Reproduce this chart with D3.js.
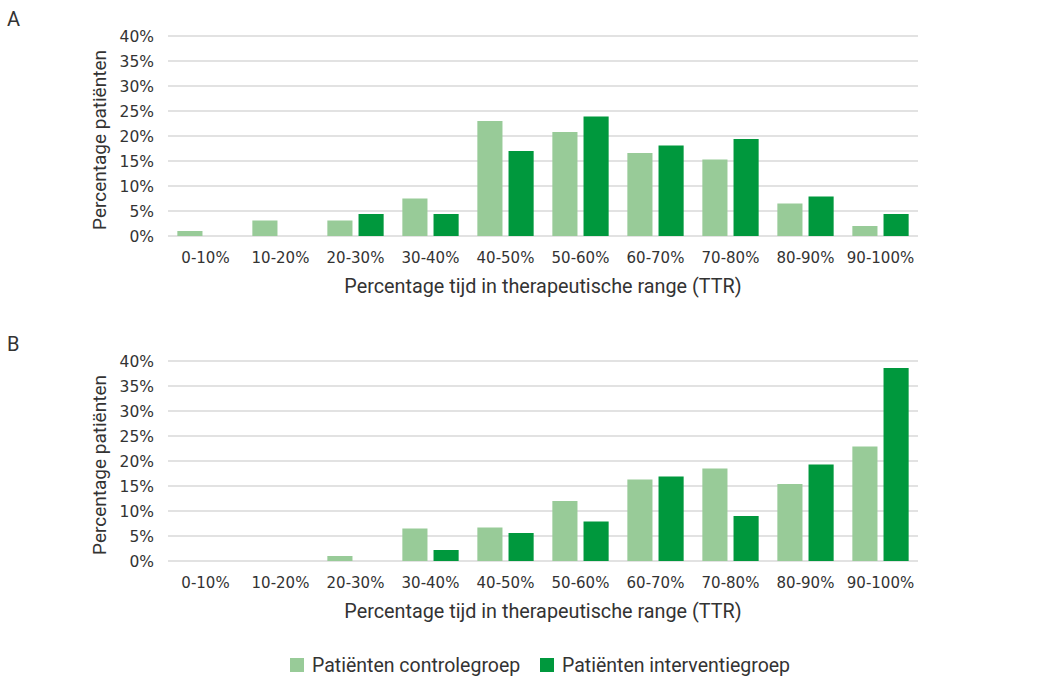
<!DOCTYPE html>
<html>
<head>
<meta charset="utf-8">
<script src="https://cdn.jsdelivr.net/npm/d3@7"></script>
<style>
  body { margin: 0; background: #fff; }
  text { font-family: Roboto, "Noto Sans", sans-serif; fill: #333; }
  text.tick { font-family: "DejaVu Sans", sans-serif; }
</style>
</head>
<body>
<div id="chart"></div>
<script>
// TTR distribution, panel A and B
const categories = ["0-10%", "10-20%", "20-30%", "30-40%", "40-50%", "50-60%", "60-70%", "70-80%", "80-90%", "90-100%"];
const seriesNames = ["Patiënten controlegroep", "Patiënten interventiegroep"];
const controlA = [1.0, 3.1, 3.1, 7.5, 23.0, 20.8, 16.6, 15.3, 6.5, 2.0];
const interventionA = [0, 0, 4.4, 4.4, 17.0, 23.9, 18.1, 19.4, 7.9, 4.4];
const controlB = [0, 0, 1.0, 6.5, 6.7, 12.0, 16.3, 18.5, 15.4, 22.9];
const interventionB = [0, 0, 0, 2.2, 5.6, 7.9, 16.9, 9.0, 19.3, 38.6];
const yTicks = [0, 5, 10, 15, 20, 25, 30, 35, 40];

const width = 1063;
const height = 691;
const colors = ["#98cb98", "#00983d"];

const svg = d3.select("#chart")
  .append("svg")
  .attr("width", width)
  .attr("height", height);

const x = d3.scaleBand()
  .domain(categories)
  .range([168, 918]);

const xInner = d3.scaleBand()
  .domain([0, 1])
  .range([0, x.bandwidth()])
  .paddingInner(0.194)
  .paddingOuter(0.3);

function drawPanel(letter, top, control, intervention) {
  const y = d3.scaleLinear().domain([0, 40]).range([top + 200, top]);
  const g = svg.append("g");

  g.append("text")
    .attr("x", 7)
    .attr("y", top - 10)
    .attr("font-size", 20)
    .text(letter);

  // gridlines
  g.selectAll("line.grid")
    .data(yTicks)
    .enter()
    .append("line")
    .attr("x1", x.range()[0])
    .attr("x2", x.range()[1])
    .attr("y1", d => y(d))
    .attr("y2", d => y(d))
    .attr("stroke", "#d9d9d9")
    .attr("stroke-width", 1.5);

  // y tick labels
  g.selectAll("text.ytick")
    .data(yTicks)
    .enter()
    .append("text")
    .attr("class", "tick")
    .attr("x", 154)
    .attr("y", d => y(d))
    .attr("dy", "0.36em")
    .attr("text-anchor", "end")
    .attr("font-size", 15.5)
    .text(d => d + "%");

  // bars
  [control, intervention].forEach((vals, s) => {
    g.selectAll("rect.s" + s)
      .data(vals)
      .enter()
      .append("rect")
      .attr("x", (d, i) => x(categories[i]) + xInner(s))
      .attr("width", xInner.bandwidth())
      .attr("y", d => y(d))
      .attr("height", d => y(0) - y(d))
      .attr("fill", colors[s]);
  });

  // x tick labels
  g.selectAll("text.xtick")
    .data(categories)
    .enter()
    .append("text")
    .attr("class", "tick")
    .attr("x", d => x(d) + x.bandwidth() / 2)
    .attr("y", top + 227)
    .attr("text-anchor", "middle")
    .attr("font-size", 15)
    .text(d => d);

  g.append("text")
    .attr("x", (x.range()[0] + x.range()[1]) / 2)
    .attr("y", top + 257)
    .attr("text-anchor", "middle")
    .attr("font-size", 19.8)
    .text("Percentage tijd in therapeutische range (TTR)");

  g.append("text")
    .attr("transform", `translate(106,${top + 104}) rotate(-90)`)
    .attr("text-anchor", "middle")
    .attr("font-size", 19)
    .text("Percentage patiënten");
}

drawPanel("A", 36, controlA, interventionA);
drawPanel("B", 361, controlB, interventionB);

// legend
const legend = svg.append("g");
const legendX = [290, 540];
seriesNames.forEach((name, i) => {
  legend.append("rect")
    .attr("x", legendX[i])
    .attr("y", 658)
    .attr("width", 14)
    .attr("height", 14)
    .attr("fill", colors[i]);
  legend.append("text")
    .attr("x", legendX[i] + 22)
    .attr("y", 665)
    .attr("dy", "0.35em")
    .attr("font-size", 19.5)
    .text(name);
});
</script>
</body>
</html>
